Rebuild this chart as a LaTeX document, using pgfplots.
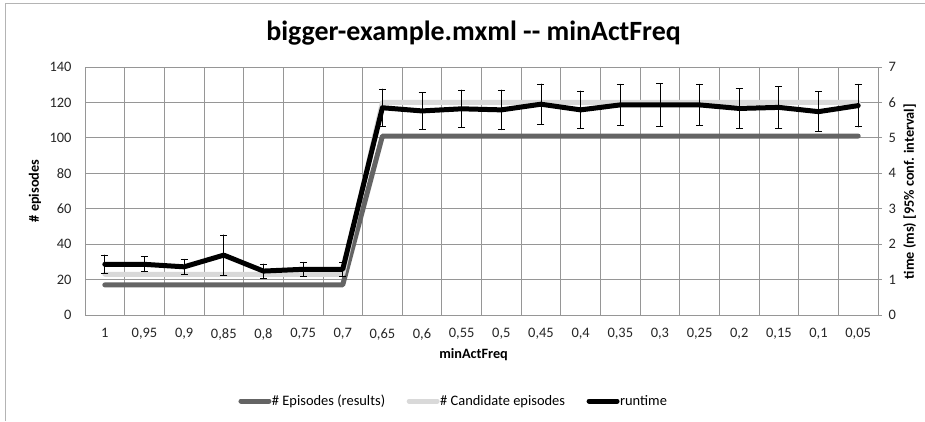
\documentclass[border=0pt]{standalone}
\usepackage{fontspec}
\setmainfont{Carlito}
\usepackage{pgfplots}
\pgfplotsset{compat=1.18}
\usepackage{pgfplotstable}
\definecolor{darkser}{RGB}{100,100,100}
\definecolor{lightser}{RGB}{217,217,217}
\definecolor{gridc}{RGB}{150,150,150}
\definecolor{framec}{RGB}{180,180,180}
\newcommand{\tickfont}{\fontsize{14.5}{16}\selectfont}
\newcommand{\labfont}{\bfseries\fontsize{14.3}{16}\selectfont}

\pgfplotstableread{
x ep cand rt err
0  17 23  1.43 0.26
1  17 23  1.43 0.21
2  17 23  1.36 0.21
3  17 23  1.69 0.57
4  17 23  1.24 0.20
5  17 23  1.29 0.20
6  17 23  1.29 0.20
7  101 120 5.85 0.53
8  101 120 5.76 0.51
9  101 120 5.82 0.53
10 101 120 5.79 0.56
11 101 120 5.95 0.57
12 101 120 5.79 0.53
13 101 120 5.93 0.58
14 101 120 5.93 0.60
15 101 120 5.93 0.58
16 101 120 5.83 0.56
17 101 120 5.86 0.58
18 101 120 5.74 0.56
19 101 120 5.91 0.60
}\datatable

\begin{document}
\begin{tikzpicture}[x=1bp,y=1bp]
\useasboundingbox (0,0) rectangle (925,421);
\fill[white] (0,0) rectangle (925,421);
\draw[framec,line width=0.8bp] (5,0) -- (5,418) -- (925,418);
\begin{axis}[
  at={(85bp,106bp)}, anchor=south west,
  scale only axis, width=793bp, height=248bp,
  xmin=-0.5, xmax=19.5,
  ymin=0, ymax=140, ytick={0,20,...,140},
  /pgf/number format/assume math mode=true,
  xticklabel style={font=\tickfont, text=black!85, yshift=-10bp},
  yticklabel style={font=\tickfont, text=black!85, xshift=-10bp},
  axis y line*=left,
  axis x line*=bottom,
  axis line style={gridc, line width=0.8bp},
  xtick={0,...,19},
  xticklabels={1,{0,95},{0,9},{0,85},{0,8},{0,75},{0,7},{0,65},{0,6},{0,55},{0,5},{0,45},{0,4},{0,35},{0,3},{0,25},{0,2},{0,15},{0,1},{0,05}},
  minor xtick={-0.5,0.5,...,19.5},
  major tick length=0pt, minor tick length=0pt,
  xmajorgrids=false, xminorgrids=true, ymajorgrids=true,
  grid style={gridc, line width=0.8bp},
  xlabel={minActFreq},
  ylabel={\# episodes},
  every axis x label/.style={at={(axis description cs:0.49,-0.158)}, anchor=center, font=\labfont},
  every axis y label/.style={at={(axis description cs:-0.063,0.5)}, rotate=90, anchor=center, font=\labfont},
  title={bigger-example.mxml {-}{-} minActFreq},
  title style={at={(axis description cs:0.49,1.111)}, anchor=center, font=\bfseries\fontsize{28}{31}\selectfont},
]
\addplot[darkser, line width=5bp, line join=round, line cap=round] table[x=x,y=ep] {\datatable};
\addplot[lightser, line width=5bp, line join=round, line cap=round] table[x=x,y=cand] {\datatable};
\end{axis}
\begin{axis}[
  at={(85bp,106bp)}, anchor=south west,
  scale only axis, width=793bp, height=248bp,
  xmin=-0.5, xmax=19.5,
  ymin=0, ymax=7, ytick={0,1,...,7},
  /pgf/number format/assume math mode=true,
  yticklabel style={font=\tickfont, text=black!85, xshift=3bp},
  axis y line*=right,
  axis x line=none,
  axis line style={gridc, line width=0.8bp},
  ytick style={gridc, line width=0.8bp},
  tick align=outside, major tick length=4bp,
  ylabel={time (ms) [95\% conf. interval]},
  every axis y label/.style={at={(axis description cs:1.040,0.498)}, rotate=90, anchor=center, font=\labfont},
  legend style={at={(axis description cs:0.464,-0.347)}, anchor=center, draw=none, fill=none,
    legend columns=3, font=\tickfont,
    /tikz/every even column/.append style={column sep=21bp},
    legend cell align=left, inner sep=0pt, nodes={inner sep=0.5bp}},
  legend image code/.code={\draw[#1] (2.5bp,0bp) -- (30.5bp,0bp);},
]
\addlegendimage{darkser, line width=5bp, line cap=round}
\addlegendentry{\# Episodes (results)}
\addlegendimage{lightser, line width=5bp, line cap=round}
\addlegendentry{\# Candidate episodes}
\addplot[black, line width=5bp, line join=round, line cap=round,
  error bars/.cd, y dir=both, y explicit,
  error bar style={black, line width=0.8bp},
  error mark options={rotate=90, mark size=3.5bp, line width=0.8bp, black}]
  table[x=x, y=rt, y error=err] {\datatable};
\addlegendentry{runtime}
\end{axis}
\end{tikzpicture}
\end{document}
